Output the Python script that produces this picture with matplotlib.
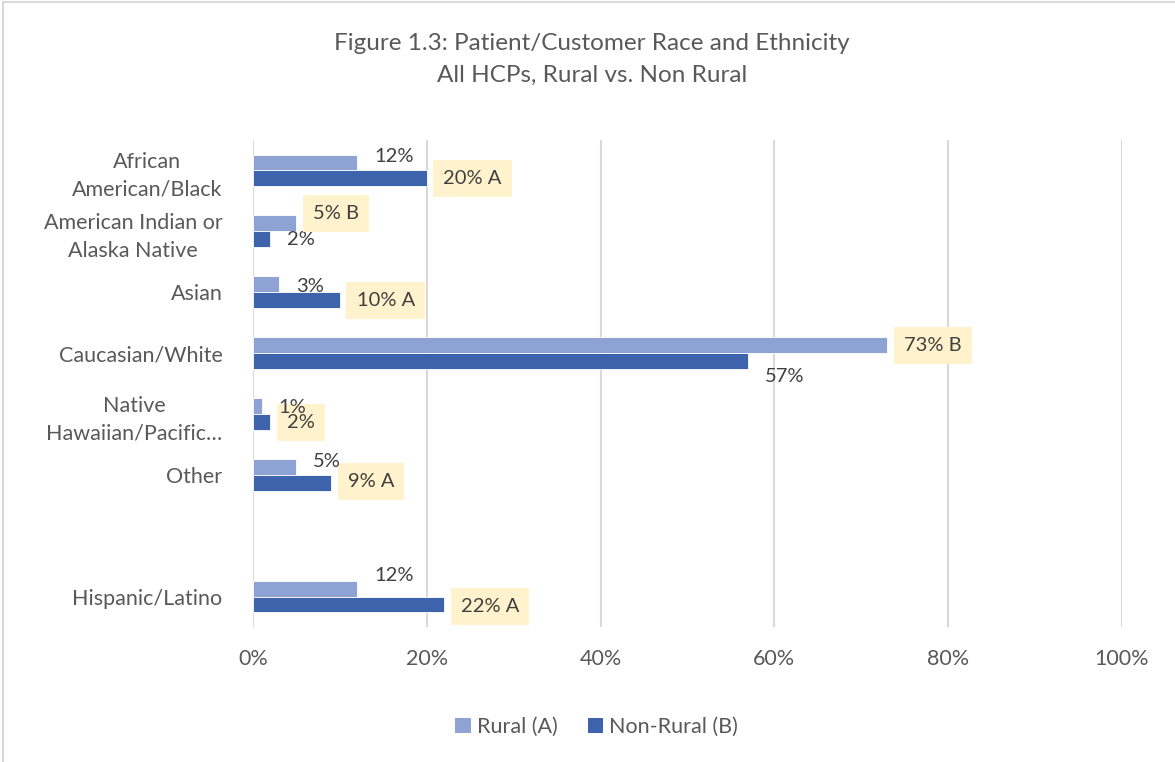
import matplotlib

matplotlib.use("Agg")

import matplotlib.pyplot as plt
from matplotlib.lines import Line2D
from matplotlib.patches import Patch

plt.rcParams["font.family"] = ["Lato", "DejaVu Sans"]

# data (percent)
categories = [
    "African\nAmerican/Black",
    "American Indian or\nAlaska Native",
    "Asian",
    "Caucasian/White",
    "Native\nHawaiian/Pacific…",
    "Other",
    "",
    "Hispanic/Latino",
]
rural = [12, 5, 3, 73, 1, 5, None, 12]
non_rural = [20, 2, 10, 57, 2, 9, None, 22]
rural_flags = ["", "B", "", "B", "", "", "", ""]
non_rural_flags = ["A", "", "A", "", "", "A", "", "A"]
# labels with a yellow highlight box in the reference
rural_boxed = [False, True, False, True, False, False, False, False]
non_rural_boxed = [True, False, True, False, True, True, False, True]

x_ticks = [0, 20, 40, 60, 80, 100]

# vertical nudges (pixels, + is down) that mimic Excel's label placement
rural_nudge = [-6, -10, 2, 0, 1, -5, 0, -13]
non_rural_nudge = [0, 0, 0, 16, 1, -1, 0, 2]

RURAL_COLOR = "#8FA2D4"
NON_RURAL_COLOR = "#3C63AC"
BOX_COLOR = "#FFF2CC"
LABEL_COLOR = "#404040"
AXIS_TEXT = "#595959"
GRID_COLOR = "#D9D9D9"

figure = plt.figure(figsize=(11.75, 7.62), dpi=100)
axis = figure.add_axes([253 / 1175, 1 - 627 / 762, (1122 - 253) / 1175, (627 - 140) / 762])

bar_height = 0.26
positions = list(range(len(categories)))

for index, pos in enumerate(positions):
    if rural[index] is None:
        continue
    axis.barh(pos - bar_height / 2, rural[index], height=bar_height,
              color=RURAL_COLOR, edgecolor="white", linewidth=0.6, zorder=3)
    axis.barh(pos + bar_height / 2, non_rural[index], height=bar_height,
              color=NON_RURAL_COLOR, edgecolor="white", linewidth=0.6, zorder=3)

    for value, flag, boxed, nudge, offset, layer in [
        (non_rural[index], non_rural_flags[index], non_rural_boxed[index],
         non_rural_nudge[index], bar_height / 2, 4),
        (rural[index], rural_flags[index], rural_boxed[index],
         rural_nudge[index], -bar_height / 2, 5),
    ]:
        text = f"{value}%" + (f" {flag}" if flag else "")
        bbox = None
        if boxed:
            bbox = dict(boxstyle="square,pad=0.5", facecolor=BOX_COLOR, edgecolor="none")
        axis.annotate(
            text,
            xy=(value, pos + offset),
            xytext=(12, -nudge * 0.72),
            textcoords="offset points",
            ha="left",
            va="center",
            fontsize=14.5,
            color=LABEL_COLOR,
            bbox=bbox,
            zorder=layer,
            annotation_clip=False,
        )

axis.set_xlim(0, 100)
axis.set_ylim(len(categories) - 0.5, -0.5)
axis.set_xticks(x_ticks)
axis.set_xticklabels([f"{tick}%" for tick in x_ticks])
axis.set_yticks(positions)
axis.set_yticklabels(categories, multialignment="center", linespacing=1.45)
axis.tick_params(axis="x", colors=AXIS_TEXT, labelsize=15.5, length=0, pad=16)
axis.tick_params(axis="y", colors=AXIS_TEXT, labelsize=15.5, length=0, pad=22)
for spine in axis.spines.values():
    spine.set_visible(False)
axis.grid(True, axis="x", color=GRID_COLOR, linewidth=1.5, zorder=0)
axis.set_axisbelow(True)

figure.text(0.504, 1 - 44 / 762, "Figure 1.3: Patient/Customer Race and Ethnicity",
            ha="center", va="center", fontsize=17.5, color=AXIS_TEXT)
figure.text(0.504, 1 - 75 / 762, "All HCPs, Rural vs. Non Rural",
            ha="center", va="center", fontsize=17.5, color=AXIS_TEXT)

handles = [
    Patch(facecolor=RURAL_COLOR, label="Rural (A)"),
    Patch(facecolor=NON_RURAL_COLOR, label="Non-Rural (B)"),
]
figure.legend(handles=handles, loc="center", bbox_to_anchor=(0.508, 1 - 727 / 762),
              ncol=2, frameon=False, fontsize=15.5, labelcolor=AXIS_TEXT,
              handlelength=0.7, handleheight=0.7, handletextpad=0.3, columnspacing=1.4)

# chart-area border (top and left are visible in the reference crop)
figure.add_artist(Line2D([3 / 1175, 3 / 1175], [0, 1 - 2 / 762], color=GRID_COLOR, linewidth=1.5))
figure.add_artist(Line2D([3 / 1175, 1], [1 - 2 / 762, 1 - 2 / 762], color=GRID_COLOR, linewidth=1.5))

figure.savefig("out.png", dpi=100, facecolor="white")
plt.close(figure)
